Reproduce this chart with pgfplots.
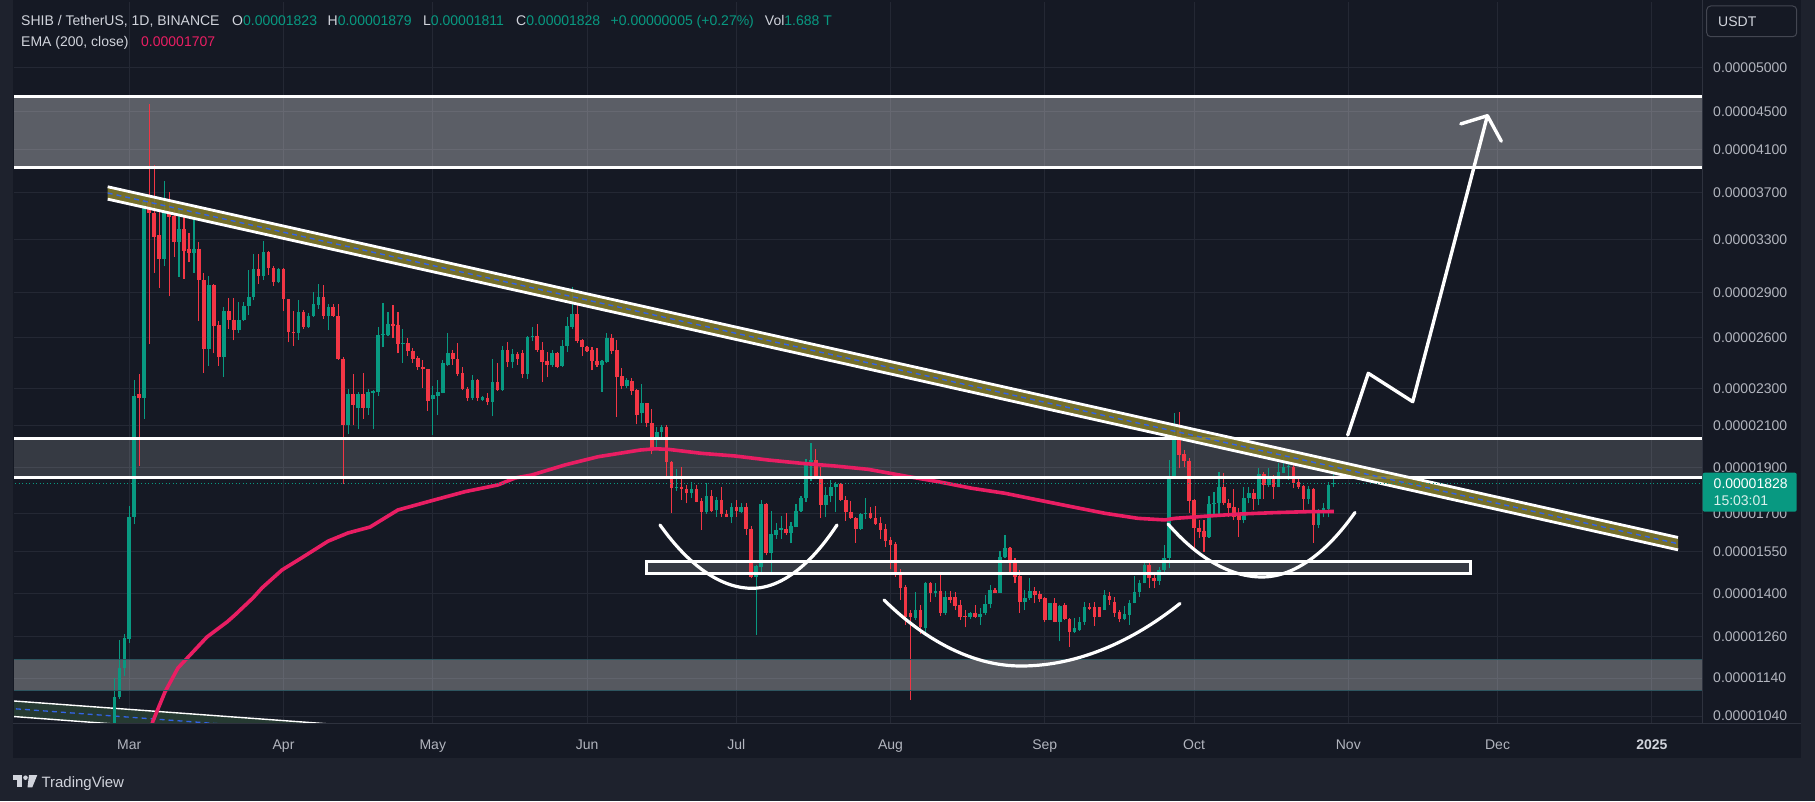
\documentclass[border=0pt]{standalone}
\usepackage{pgfplots}
\pgfplotsset{compat=1.18}
\usepackage{pgfplotstable}
\usepackage{fontspec}
\setmainfont{Liberation Sans}
\definecolor{outerbg}{RGB}{30,34,45}
\definecolor{chartbg}{RGB}{21,25,36}
\definecolor{gridc}{RGB}{36,40,52}
\definecolor{sepc}{RGB}{46,50,62}
\definecolor{txt}{RGB}{178,181,190}
\definecolor{txtb}{RGB}{209,212,220}
\definecolor{tvgreen}{RGB}{8,153,129}
\definecolor{tvred}{RGB}{242,54,69}
\definecolor{emac}{RGB}{233,30,99}
\definecolor{olivec}{RGB}{128,121,44}
\definecolor{chblue}{RGB}{50,100,230}
\definecolor{lowch}{RGB}{38,58,50}
\definecolor{zoneedge}{RGB}{45,85,95}
\definecolor{boxedge}{RGB}{67,70,81}

\pgfplotstableread{
d o h l c
-3 0.99 1.141 0.98 1.088
-2 1.088 1.250 1.085 1.169
-1 1.169 1.27 1.146 1.256
0 1.253 1.728 1.240 1.685
1 1.685 2.348 1.655 2.261
2 2.27 2.383 1.907 2.25
3 2.250 3.646 2.137 3.610
4 3.610 4.577 2.559 3.515
5 3.515 3.954 3.045 3.319
6 3.335 3.546 2.933 3.144
7 3.144 3.805 3.091 3.522
8 3.522 3.701 2.875 3.487
9 3.494 3.546 3.165 3.280
10 3.280 3.557 3.015 3.385
11 3.385 3.487 3.000 3.212
12 3.228 3.352 3.122 3.196
13 3.196 3.484 3.045 3.228
14 3.228 3.276 2.710 2.992
15 2.992 3.040 2.388 2.533
16 2.533 3.021 2.430 2.956
17 2.956 2.962 2.504 2.675
18 2.680 2.710 2.430 2.484
19 2.484 2.805 2.367 2.772
20 2.772 2.862 2.657 2.718
21 2.718 2.867 2.584 2.651
22 2.651 2.839 2.631 2.718
23 2.715 2.839 2.710 2.811
24 2.811 3.067 2.750 2.870
25 2.870 3.184 2.847 3.073
26 3.073 3.184 2.962 3.018
27 3.018 3.286 2.992 3.203
28 3.203 3.210 3.027 3.076
29 3.080 3.091 2.948 2.980
30 2.977 3.080 2.971 3.073
31 3.073 3.078 2.777 2.856
32 2.856 2.860 2.571 2.638
33 2.638 2.777 2.551 2.631
34 2.631 2.853 2.587 2.769
35 2.769 2.783 2.657 2.670
36 2.670 2.764 2.665 2.742
37 2.742 2.905 2.737 2.819
38 2.814 2.962 2.791 2.870
39 2.870 2.956 2.723 2.742
40 2.742 2.825 2.649 2.803
41 2.803 2.819 2.737 2.742
42 2.742 2.825 2.467 2.472
43 2.472 2.484 1.824 2.106
44 2.106 2.297 2.059 2.268
45 2.268 2.383 2.106 2.208
46 2.195 2.279 2.083 2.268
47 2.268 2.388 2.137 2.195
48 2.195 2.297 2.158 2.279
49 2.272 2.291 2.084 2.287
50 2.282 2.671 2.257 2.618
51 2.618 2.826 2.540 2.625
52 2.618 2.770 2.611 2.686
53 2.686 2.815 2.596 2.676
54 2.682 2.770 2.504 2.561
55 2.561 2.654 2.448 2.567
56 2.565 2.600 2.488 2.520
57 2.520 2.534 2.448 2.472
58 2.474 2.488 2.405 2.420
59 2.424 2.464 2.305 2.409
60 2.409 2.412 2.178 2.232
61 2.240 2.313 2.054 2.263
62 2.259 2.347 2.156 2.282
63 2.276 2.464 2.272 2.444
64 2.434 2.628 2.430 2.504
65 2.504 2.524 2.434 2.468
66 2.468 2.568 2.370 2.382
67 2.386 2.424 2.291 2.295
68 2.295 2.310 2.231 2.249
69 2.249 2.375 2.236 2.347
70 2.347 2.351 2.231 2.245
71 2.236 2.258 2.231 2.254
72 2.245 2.272 2.209 2.227
73 2.227 2.468 2.150 2.338
74 2.338 2.448 2.287 2.291
75 2.291 2.549 2.287 2.524
76 2.524 2.575 2.424 2.454
77 2.454 2.528 2.414 2.500
78 2.500 2.514 2.434 2.470
79 2.504 2.524 2.357 2.382
80 2.382 2.611 2.354 2.607
81 2.603 2.667 2.582 2.612
82 2.612 2.686 2.514 2.524
83 2.524 2.575 2.338 2.454
84 2.460 2.514 2.363 2.434
85 2.434 2.524 2.424 2.508
86 2.508 2.514 2.414 2.424
87 2.428 2.586 2.424 2.549
88 2.549 2.732 2.514 2.674
89 2.671 2.943 2.654 2.754
90 2.754 2.820 2.565 2.582
91 2.586 2.590 2.488 2.540
92 2.545 2.549 2.514 2.520
93 2.524 2.545 2.405 2.460
94 2.460 2.534 2.424 2.434
95 2.434 2.464 2.282 2.458
96 2.454 2.628 2.448 2.596
97 2.596 2.625 2.500 2.520
98 2.524 2.586 2.148 2.366
99 2.370 2.418 2.295 2.313
100 2.313 2.357 2.300 2.347
101 2.343 2.357 2.263 2.287
102 2.291 2.295 2.108 2.156
103 2.165 2.325 2.114 2.219
104 2.219 2.222 2.097 2.114
105 2.114 2.187 1.960 1.985
106 2.030 2.097 1.981 2.071
107 2.071 2.105 2.045 2.097
108 2.097 2.105 1.857 1.926
109 1.926 1.930 1.700 1.806
110 1.806 1.891 1.796 1.813
111 1.813 1.900 1.755 1.801
112 1.801 1.820 1.741 1.784
113 1.784 1.833 1.763 1.801
114 1.801 1.820 1.745 1.748
115 1.750 1.763 1.634 1.703
116 1.703 1.828 1.697 1.773
117 1.773 1.798 1.707 1.711
118 1.713 1.770 1.686 1.755
119 1.755 1.813 1.683 1.697
120 1.697 1.713 1.683 1.686
121 1.686 1.741 1.659 1.727
122 1.727 1.755 1.686 1.710
123 1.707 1.741 1.700 1.727
124 1.727 1.741 1.612 1.638
125 1.638 1.648 1.452 1.458
126 1.458 1.499 1.266 1.496
127 1.493 1.755 1.470 1.738
128 1.738 1.741 1.535 1.545
129 1.545 1.711 1.472 1.616
130 1.612 1.662 1.599 1.634
131 1.634 1.690 1.599 1.639
132 1.638 1.700 1.612 1.619
133 1.621 1.665 1.580 1.648
134 1.645 1.738 1.643 1.711
135 1.711 1.773 1.707 1.763
136 1.763 1.937 1.748 1.926
137 1.926 2.017 1.840 1.934
138 1.934 1.985 1.847 1.857
139 1.857 1.903 1.680 1.735
140 1.735 1.813 1.686 1.777
141 1.773 1.843 1.745 1.813
142 1.810 1.833 1.703 1.825
143 1.825 1.828 1.752 1.755
144 1.755 1.773 1.669 1.707
145 1.707 1.752 1.676 1.680
146 1.680 1.686 1.583 1.638
147 1.638 1.700 1.634 1.697
148 1.697 1.763 1.676 1.702
149 1.700 1.724 1.676 1.680
150 1.680 1.731 1.652 1.656
151 1.659 1.686 1.599 1.634
152 1.638 1.656 1.568 1.590
153 1.593 1.606 1.484 1.573
154 1.578 1.587 1.458 1.468
155 1.468 1.484 1.377 1.417
156 1.420 1.430 1.297 1.323
157 1.334 1.345 1.081 1.321
158 1.318 1.406 1.313 1.345
159 1.345 1.360 1.270 1.290
160 1.286 1.440 1.263 1.434
161 1.434 1.440 1.372 1.400
162 1.402 1.434 1.389 1.408
163 1.409 1.467 1.325 1.336
164 1.336 1.409 1.329 1.389
165 1.389 1.409 1.366 1.377
166 1.387 1.406 1.345 1.358
167 1.361 1.377 1.313 1.323
168 1.325 1.346 1.289 1.321
169 1.321 1.339 1.316 1.334
170 1.336 1.361 1.318 1.321
171 1.321 1.350 1.297 1.332
172 1.334 1.394 1.329 1.364
173 1.364 1.429 1.350 1.411
174 1.411 1.417 1.400 1.402
175 1.402 1.553 1.400 1.528
176 1.528 1.612 1.524 1.561
177 1.561 1.565 1.470 1.508
178 1.508 1.524 1.434 1.458
179 1.460 1.482 1.336 1.372
180 1.372 1.411 1.345 1.383
181 1.383 1.452 1.377 1.409
182 1.409 1.420 1.366 1.394
183 1.397 1.409 1.372 1.380
184 1.383 1.389 1.305 1.313
185 1.313 1.369 1.311 1.366
186 1.366 1.383 1.305 1.307
187 1.307 1.361 1.246 1.357
188 1.361 1.366 1.313 1.315
189 1.315 1.318 1.230 1.276
190 1.276 1.318 1.273 1.286
191 1.281 1.323 1.279 1.305
192 1.307 1.372 1.297 1.353
193 1.353 1.366 1.345 1.349
194 1.353 1.372 1.293 1.323
195 1.353 1.355 1.321 1.323
196 1.346 1.411 1.345 1.394
197 1.391 1.406 1.361 1.377
198 1.372 1.389 1.323 1.336
199 1.339 1.345 1.305 1.315
200 1.315 1.358 1.311 1.332
201 1.329 1.377 1.297 1.369
202 1.369 1.460 1.366 1.406
203 1.406 1.446 1.389 1.436
204 1.436 1.506 1.434 1.499
205 1.499 1.506 1.417 1.452
206 1.452 1.476 1.417 1.444
207 1.444 1.493 1.429 1.482
208 1.482 1.575 1.476 1.524
209 1.524 1.934 1.490 1.860
210 1.860 2.165 1.857 2.030
211 2.080 2.170 1.895 1.958
212 1.962 1.982 1.903 1.930
213 1.930 1.942 1.700 1.752
214 1.755 1.759 1.552 1.639
215 1.642 1.672 1.600 1.626
216 1.629 1.672 1.549 1.606
217 1.606 1.773 1.600 1.738
218 1.739 1.791 1.693 1.743
219 1.741 1.880 1.693 1.813
220 1.813 1.876 1.734 1.741
221 1.744 1.759 1.686 1.723
222 1.727 1.802 1.672 1.686
223 1.693 1.720 1.606 1.672
224 1.672 1.813 1.659 1.763
225 1.763 1.813 1.741 1.787
226 1.787 1.802 1.713 1.759
227 1.759 1.895 1.734 1.870
228 1.870 1.880 1.759 1.821
229 1.821 1.895 1.813 1.861
230 1.858 1.865 1.759 1.813
231 1.813 1.919 1.810 1.880
232 1.876 1.950 1.873 1.903
233 1.903 1.927 1.843 1.908
234 1.903 1.919 1.806 1.831
235 1.835 1.855 1.802 1.813
236 1.817 1.821 1.711 1.759
237 1.759 1.817 1.738 1.802
238 1.802 1.806 1.583 1.652
239 1.652 1.716 1.639 1.700
240 1.700 1.741 1.683 1.720
241 1.716 1.835 1.683 1.821
242 1.823 1.879 1.811 1.828
}\candles

\pgfplotstablegetrowsof{\candles}
\pgfmathtruncatemacro{\lastrow}{\pgfplotsretval-1}

\begin{document}
\begin{tikzpicture}
\fill[outerbg] (0pt,0pt) rectangle (1815pt,801pt);
\fill[chartbg] (12.6pt,43pt) rectangle (1801pt,801pt);
\begin{axis}[
  at={(14pt,78pt)}, anchor=south west,
  scale only axis, width=1688pt, height=721pt,
  xmin=-23.17, xmax=316.09,
  ymode=log, ymin=1.0225, ymax=5.867,
  axis line style={draw=none},
  major tick length=0pt, minor tick length=0pt,
  yminorticks=false, yminorgrids=false, xminorgrids=false,
  xtick={0,31,61,92,122,153,184,214,245,275,306},
  xticklabels={Mar,Apr,May,Jun,Jul,Aug,Sep,Oct,Nov,Dec,{\bfseries\color{txtb}2025}},
  ytick={1.04,1.14,1.26,1.4,1.55,1.7,1.9,2.1,2.3,2.6,2.9,3.3,3.7,4.1,4.5,5},
  yticklabels={0.00001040,0.00001140,0.00001260,0.00001400,0.00001550,0.00001700,0.00001900,0.00002100,0.00002300,0.00002600,0.00002900,0.00003300,0.00003700,0.00004100,0.00004500,0.00005000},
  ytick pos=right, yticklabel pos=right,
  grid=major, major grid style={draw=gridc, line width=1pt},
  tick label style={font=\fontsize{14}{16}\selectfont, text=txt, inner sep=0pt},
  yticklabel style={anchor=west, xshift=11pt},
  xticklabel style={anchor=base, yshift=-26pt},
]
% lower-left channel
\addplot[fill=lowch, draw=none] coordinates {(-30,1.085) (100,0.968) (100,0.930) (-30,1.045)} -- cycle;
\addplot[white, line width=1.4pt] coordinates {(-30,1.085) (100,0.968)};
\addplot[white, line width=1.4pt] coordinates {(-30,1.045) (100,0.930)};
\addplot[chblue, line width=1.3pt, dash pattern=on 5pt off 4pt] coordinates {(-30,1.065) (100,0.949)};
% zones (fills)
\addplot[fill=white, fill opacity=0.30, draw=none] coordinates {(-30,3.934) (330,3.934) (330,4.661) (-30,4.661)} -- cycle;
\addplot[fill=white, fill opacity=0.145, draw=none] coordinates {(-30,1.855) (330,1.855) (330,2.035) (-30,2.035)} -- cycle;
\addplot[fill=white, fill opacity=0.28, draw=none] coordinates {(-30,1.105) (330,1.105) (330,1.1925) (-30,1.1925)} -- cycle;
\addplot[fill=white, fill opacity=0.145, draw=none] coordinates {(103.85,1.4706) (269.46,1.4706) (269.46,1.5116) (103.85,1.5116)} -- cycle;
% candles
\pgfplotsforeachungrouped \i in {0,...,\lastrow}{%
  \pgfplotstablegetelem{\i}{d}\of\candles \let\cd\pgfplotsretval
  \pgfplotstablegetelem{\i}{o}\of\candles \let\co\pgfplotsretval
  \pgfplotstablegetelem{\i}{h}\of\candles \let\ch\pgfplotsretval
  \pgfplotstablegetelem{\i}{l}\of\candles \let\cl\pgfplotsretval
  \pgfplotstablegetelem{\i}{c}\of\candles \let\cc\pgfplotsretval
  \pgfmathtruncatemacro{\isup}{\cc>=\co}%
  \ifnum\isup=1 \def\ccol{tvgreen}\else\def\ccol{tvred}\fi
  \edef\temp{\noexpand\addplot[draw=\ccol, line width=1.1pt] coordinates {(\cd,\cl) (\cd,\ch)};
    \noexpand\addplot[draw=\ccol, line width=3.6pt] coordinates {(\cd,\co) (\cd,\cc)};}%
  \temp
}
% EMA 200
\addplot[emac, line width=3.6pt, line join=round] coordinates {
(3,0.96) (4.76,1.0275) (7.18,1.1025) (9.79,1.1685) (12.6,1.2115) (15.62,1.2595)
(19.64,1.306) (21.24,1.3285) (24.86,1.3845) (26.67,1.4185) (30.69,1.4815) (34.71,1.5265)
(39.94,1.5885) (43.96,1.6205) (48.38,1.644) (54.0,1.7135) (60.78,1.7525) (67.47,1.791)
(74.1,1.8205) (77.52,1.8515) (80.88,1.865) (87.57,1.911) (94.2,1.9495) (102.64,1.9815)
(105.66,1.9875) (108.27,1.985) (115.04,1.9655) (121.74,1.953) (128.37,1.934) (135.14,1.9185)
(141.83,1.906) (148.47,1.891) (155.9,1.8605) (162.54,1.835) (169.31,1.806) (176.0,1.784)
(182.64,1.7555) (189.41,1.727) (196.1,1.6995) (202.73,1.679) (208.16,1.6725) (210.17,1.679)
(216.8,1.6885) (223.57,1.697) (230.27,1.7025) (236.9,1.7065) (242.1,1.707)};
% zone edges
\addplot[white, line width=3pt] coordinates {(-30,4.661) (330,4.661)};
\addplot[white, line width=3pt] coordinates {(-30,3.934) (330,3.934)};
\addplot[white, line width=3pt] coordinates {(-30,2.035) (330,2.035)};
\addplot[white, line width=3pt] coordinates {(-30,1.855) (330,1.855)};
\addplot[zoneedge, line width=1pt] coordinates {(-30,1.1925) (330,1.1925)};
\addplot[zoneedge, line width=1pt] coordinates {(-30,1.105) (330,1.105)};
\addplot[white, line width=3pt] coordinates {(103.85,1.4706) (269.46,1.4706) (269.46,1.5116) (103.85,1.5116)} -- cycle;
% descending channel
\addplot[fill=olivec, fill opacity=0.9, draw=none] coordinates {(-4.34,3.750) (311.26,1.603) (311.26,1.5555) (-4.34,3.639)} -- cycle;
\addplot[white, line width=2.8pt] coordinates {(-4.34,3.750) (311.26,1.603)};
\addplot[white, line width=2.8pt] coordinates {(-4.34,3.639) (311.26,1.5555)};
\addplot[chblue, line width=1.4pt, dash pattern=on 5pt off 4pt] coordinates {(-4.34,3.694) (311.26,1.579)};
% last price line
\addplot[tvgreen, line width=1pt, dash pattern=on 1pt off 2.5pt] coordinates {(-30,1.828) (330,1.828)};
\end{axis}
\begin{scope}[x=1pt,y=1pt]
% separators
\draw[sepc, line width=1pt] (12.6,78) -- (1801,78);
\draw[sepc, line width=1pt] (1702,78) -- (1702,801);
% cups
\draw[white, line width=3.2pt, line cap=round] (660,276) parabola bend (752,212.7) (837,276);
\draw[white, line width=3.2pt, line cap=round] (884,201) parabola bend (1021,135) (1180,197.5);
\draw[white, line width=3.2pt, line cap=round] (1168,277) parabola bend (1262,224) (1355,288.5);
% arrow
\draw[white, line width=3.4pt, line cap=round, line join=round] (1347.7,366) -- (1368.3,427.7) -- (1412.7,399.3) -- (1487.4,685.3);
\draw[white, line width=3.4pt, line cap=round, line join=round] (1460.8,677.1) -- (1487.4,685.3) -- (1501.3,659.8);
% price tag
\fill[tvgreen, rounded corners=2pt] (1702.7,289.3) rectangle (1796.7,328.3);
\node[anchor=base west, inner sep=0pt, text=white, font=\fontsize{14}{16}\selectfont] at (1713.5,312.5) {0.00001828};
\node[anchor=base west, inner sep=0pt, text=white!85!tvgreen, font=\fontsize{14}{16}\selectfont] at (1713.5,295.5) {15:03:01};
% USDT box
\draw[boxedge, line width=1pt, rounded corners=4pt] (1706.7,764.3) rectangle (1796.7,795);
\node[anchor=base west, inner sep=0pt, text=txtb, font=\fontsize{14}{16}\selectfont] at (1718,774.3) {USDT};
% header
\begin{scope}[every node/.style={anchor=base west, inner sep=0pt, font=\fontsize{14}{16}\selectfont}]
\node[text=txtb] at (21,775.5) {SHIB / TetherUS, 1D, BINANCE};
\node at (232,775.5) {\color{txtb}O\color{tvgreen}0.00001823};
\node at (327.5,775.5) {\color{txtb}H\color{tvgreen}0.00001879};
\node at (423,775.5) {\color{txtb}L\color{tvgreen}0.00001811};
\node at (516,775.5) {\color{txtb}C\color{tvgreen}0.00001828};
\node at (610.5,775.5) {\color{tvgreen}+0.00000005 (+0.27\%)\hspace{11pt}\color{txtb}Vol\color{tvgreen}1.688 T};
\node[text=txtb] at (21,754.5) {EMA (200, close)};
\node[text=emac] at (141,754.5) {0.00001707};
\end{scope}
% TradingView logo
\fill[txtb] (12.6,21.5) rectangle (22,26);
\fill[txtb] (17,13.7) rectangle (22,26);
\fill[txtb] (25.5,23.3) circle (2.3);
\fill[txtb] (29,26) -- (37.3,26) -- (32.3,13.7) -- (27.5,13.7) -- cycle;
\node[anchor=base west, inner sep=0pt, text=txtb, font=\fontsize{15}{17}\selectfont] at (41.3,13.8) {TradingView};
\end{scope}
\pgfresetboundingbox
\useasboundingbox (0pt,0pt) rectangle (1815pt,801pt);
\end{tikzpicture}
\end{document}
